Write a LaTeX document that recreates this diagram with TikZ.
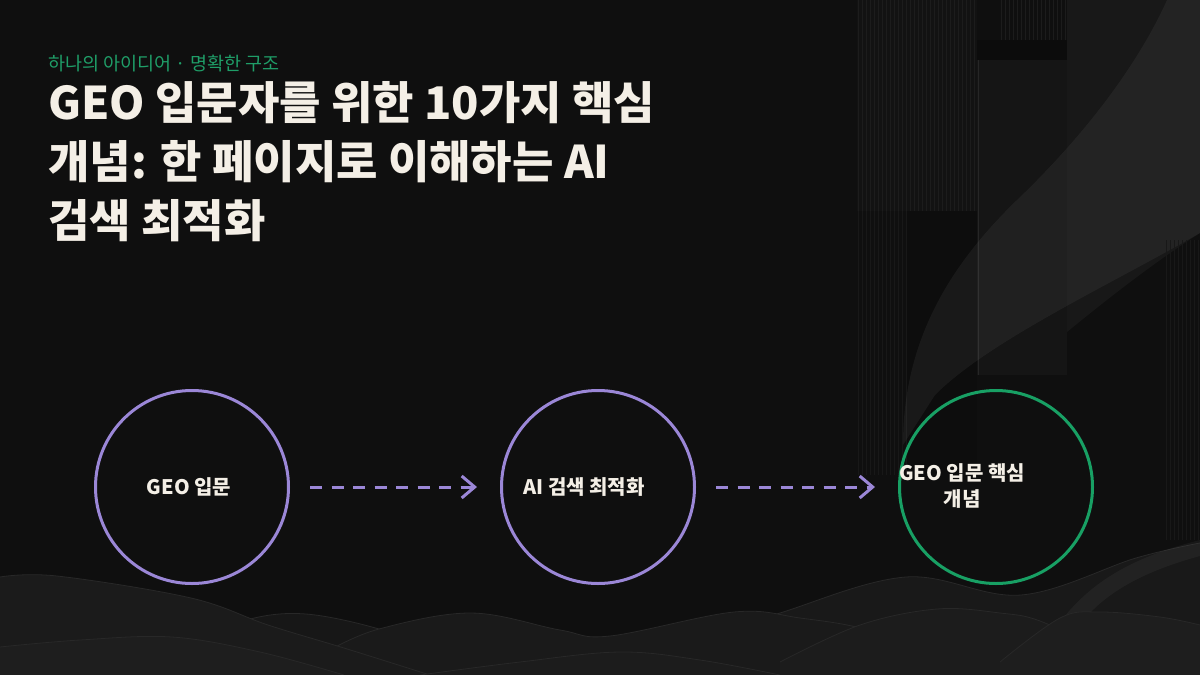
\documentclass[tikz,border=0pt]{standalone}
\usepackage{fontspec}
\setmainfont{Noto Sans CJK KR}
\usetikzlibrary{arrows.meta}
\definecolor{bg}{HTML}{0F0F0F}
\definecolor{stripe}{HTML}{1C1C1C}
\definecolor{stripeb}{HTML}{181818}
\definecolor{g0C}{HTML}{0C0C0C}
\definecolor{g0D}{HTML}{0D0D0D}
\definecolor{g12}{HTML}{121212}
\definecolor{g17}{HTML}{171717}
\definecolor{g19}{HTML}{191919}
\definecolor{g1A}{HTML}{1A1A1A}
\definecolor{g1B}{HTML}{1B1B1B}
\definecolor{g1C}{HTML}{1C1C1C}
\definecolor{g1E}{HTML}{1E1E1E}
\definecolor{g26}{HTML}{262626}
\definecolor{colA}{HTML}{151515}
\definecolor{colB}{HTML}{181818}
\definecolor{waveedge}{HTML}{282828}
\definecolor{lav}{HTML}{9B87D7}
\definecolor{grn}{HTML}{18A064}
\definecolor{cream}{HTML}{F4EFE6}
\definecolor{subgrn}{HTML}{1F9E68}
\newcommand\mywave[3]{%
  \fill[#1] plot[smooth,tension=0.6] coordinates {#2} -- #3 -- cycle;
  \draw[waveedge,line width=0.8pt] plot[smooth,tension=0.6] coordinates {#2};}
\begin{document}
\begin{tikzpicture}[x=1pt,y=-1pt,
  stage/.style={circle,draw=lav,line width=3pt,minimum size=193pt,inner sep=0pt},
  goal/.style={circle,draw=grn,line width=3pt,minimum size=193pt,inner sep=0pt},
  lbl/.style={text=cream,font=\fontsize{20}{26}\selectfont\bfseries,align=center,inner sep=0pt},
  title/.style={text=cream,font=\fontsize{45}{58}\selectfont\bfseries,anchor=base west,inner sep=0pt},
  flow/.style={draw=lav,line width=3pt,dash pattern=on 12pt off 9.5pt,
    -{Straight Barb[length=13pt,width=22pt]},shorten <=20pt,shorten >=23pt}]
\useasboundingbox (0,0) rectangle (1200,675);
\fill[bg] (0,0) rectangle (1200,675);
% background decoration: stripes and columns
\fill[g12] (857,0) rectangle (977,211);
\foreach \i in {0,...,29} \draw[stripe,line width=1pt] (858.5+4*\i,0) -- (858.5+4*\i,211);
\foreach \i in {0,...,12} \draw[stripeb,line width=1pt] (858.5+4*\i,211) -- (858.5+4*\i,475);
\fill[g0D] (907,211) rectangle (977,480);
\foreach \i in {0,...,16} \draw[stripe,line width=1pt] (1001+4*\i,0) -- (1001+4*\i,40);
\fill[g0C] (977,40) rectangle (1067,60);
\fill[colA] (977,60) rectangle (1067,375);
\draw[g26,line width=1pt] (978.5,60) -- (978.5,375);
\fill[colB] (1067,0) -- (1200,0) -- (1200,233) .. controls (1150,265) and (1100,305) .. (1067,332) -- cycle;
\fill[white,opacity=0.05] (1167,0) -- (1200,0) -- (1200,233)
  .. controls (1110,285) and (990,340) .. (935,395) -- (903,445)
  .. controls (903,340) and (950,265) .. (1017,200)
  .. controls (1090,130) and (1140,60) .. (1167,0) -- cycle;
\foreach \i in {0,...,8} \draw[stripeb,line width=1pt] (1166+4*\i,240) -- (1166+4*\i,540);
% waves
\mywave{g19}{(700,640) (780,613) (906,577) (1021,595) (1136,558) (1200,543)}{(1200,675) -- (700,675)}
\fill[white,opacity=0.04] (1060,622) .. controls (1085,590) and (1120,560) .. (1200,540) -- (1200,556) .. controls (1130,575) and (1100,600) .. (1082,622) -- cycle;
\mywave{g17}{(200,640) (250,619) (306,614) (379,629) (430,650)}{(430,675) -- (200,675)}
\mywave{g1A}{(330,650) (379,629) (471,613) (560,630) (610,636) (734,612) (800,618) (868,630) (950,660) (1000,675)}{(330,675)}
\mywave{g1B}{(0,577) (57,576) (191,598) (268,625) (344,648) (430,675)}{(0,675)}
\mywave{g1C}{(780,662) (860,625) (937,609) (1000,613) (1040,621) (1100,650) (1150,675)}{(780,675)}
\mywave{g1E}{(1000,662) (1060,618) (1100,612) (1160,617) (1200,625)}{(1200,675) -- (1000,675)}
\mywave{g1C}{(420,675) (520,662) (620,652) (700,660) (780,675)}{(420,675)}
\mywave{g1E}{(0,647) (80,640) (172,637) (260,652) (344,675)}{(0,675)}
% titles
\node[text=subgrn,font=\fontsize{18.5}{22}\selectfont,anchor=base west,inner sep=0pt] (sub) at (48,70) {하나의 아이디어 · 명확한 구조};
\node[title] (t1) at (48,119) {GEO 입문자를 위한 10가지 핵심};
\node[title] (t2) at (48,178) {개념: 한 페이지로 이해하는 AI};
\node[title] (t3) at (48,237) {검색 최적화};
% diagram
\node[stage] (c1) at (192,487) {};
\node[stage] (c2) at (598,487) {};
\node[goal] (c3) at (996,487) {};
\node[lbl] (l1) at (189,487) {GEO 입문};
\node[lbl] (l2) at (584,487) {AI 검색 최적화};
\node[lbl] (l3) at (962,486) {GEO 입문 핵심\\개념};
\draw[flow] (c1) -- (c2);
\draw[flow] (c2) -- (c3);
\end{tikzpicture}
\end{document}
